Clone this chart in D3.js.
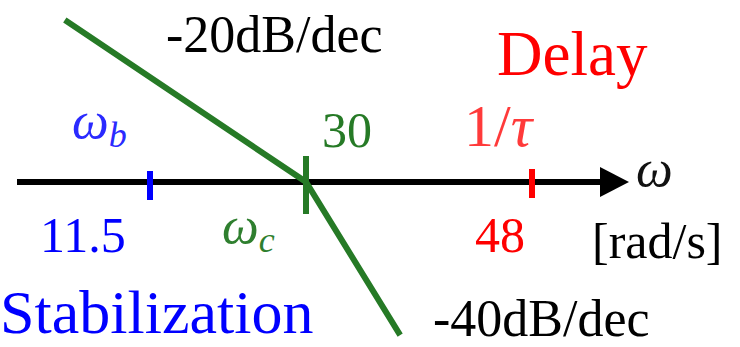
<!DOCTYPE html>
<html>
<head>
<meta charset="utf-8">
<script src="https://cdn.jsdelivr.net/npm/d3@7"></script>
<style>
  html, body { margin: 0; padding: 0; background: #fff; }
  svg { display: block; }
</style>
</head>
<body>
<div id="chart"></div>
<script>
// break frequencies on the omega axis [rad/s]
const breakFreqs = [11.5, 30, 48];
const breakValueLabels = ["11.5", "30", "48"];
const breakSymbols = [["ω", "b"], ["ω", "c"], ["1/", "τ"]];
const breakColors = ["#0000ff", "#267a26", "#ff0000"];
const symbolColors = ["#2a2aff", "#2f7f2f", "#ff3a3a"];

// gain asymptote (schematic): omega vs dB
const asymW = [1.4, 30, 37.5];
const asymDb = [20, 0, -18.9];

const slopeLabels = ["-20dB/dec", "-40dB/dec"];
const regionLabels = ["Stabilization", "Delay"];
const axisSymbol = "ω";
const unitLabel = "[rad/s]";

const width = 740, height = 347;
const axisY = 182;
const green = "#267a26";
const serif = '"Liberation Serif", "Times New Roman", serif';

const svg = d3.select("#chart").append("svg")
    .attr("width", width)
    .attr("height", height);

// not to scale: piecewise scale through the marked frequencies
const x = d3.scaleLinear()
    .domain(breakFreqs)
    .range([150, 306, 532]);

const y = d3.scaleLinear()
    .domain([0, 20])
    .range([axisY, 20]);

// omega axis with arrow
svg.append("line")
    .attr("x1", 17).attr("x2", 602)
    .attr("y1", axisY).attr("y2", axisY)
    .attr("stroke", "#000")
    .attr("stroke-width", 6);

svg.append("path")
    .attr("d", `M600,${axisY - 15} L629,${axisY} L600,${axisY + 15} Z`)
    .attr("fill", "#000");

svg.append("text")
    .attr("x", 636).attr("y", axisY + 4)
    .style("font-family", serif)
    .style("font-style", "italic")
    .style("font-size", "52px")
    .attr("fill", "#111")
    .text(axisSymbol);

svg.append("text")
    .attr("x", 592).attr("y", 258)
    .style("font-family", serif)
    .style("font-size", "50px")
    .attr("fill", "#000")
    .text(unitLabel);

// asymptote
const line = d3.line()
    .x((d, i) => x(asymW[i]))
    .y((d, i) => y(asymDb[i]));

svg.append("path")
    .datum(asymW)
    .attr("d", line)
    .attr("fill", "none")
    .attr("stroke", green)
    .attr("stroke-width", 6);

// ticks
const tickLen = [[-11, 18], [-26, 32], [-13, 16]];
svg.selectAll("line.tick")
    .data(breakFreqs)
    .enter()
    .append("line")
    .attr("class", "tick")
    .attr("x1", d => x(d)).attr("x2", d => x(d))
    .attr("y1", (d, i) => axisY + tickLen[i][0])
    .attr("y2", (d, i) => axisY + tickLen[i][1])
    .attr("stroke", (d, i) => breakColors[i])
    .attr("stroke-width", 6);

// value labels
const valuePos = [[-110, 252], [16, 147], [-57, 252]];
svg.selectAll("text.value")
    .data(breakFreqs)
    .enter()
    .append("text")
    .attr("class", "value")
    .attr("x", (d, i) => x(d) + valuePos[i][0])
    .attr("y", (d, i) => valuePos[i][1])
    .style("font-family", serif)
    .style("font-size", "50px")
    .attr("fill", (d, i) => breakColors[i])
    .text((d, i) => breakValueLabels[i]);

// symbol labels
const symbolPos = [[-78, 138], [-84, 243], [-68, 146]];
const symSize = [52, 52, 60];
const symSub = [true, true, false];
const sym = svg.selectAll("text.sym")
    .data(breakFreqs)
    .enter()
    .append("text")
    .attr("class", "sym")
    .attr("x", (d, i) => x(d) + symbolPos[i][0])
    .attr("y", (d, i) => symbolPos[i][1])
    .style("font-family", serif)
    .style("font-size", (d, i) => symSize[i] + "px")
    .attr("fill", (d, i) => symbolColors[i]);

sym.append("tspan")
    .style("font-style", (d, i) => symSub[i] ? "italic" : "normal")
    .text((d, i) => breakSymbols[i][0]);

sym.append("tspan")
    .style("font-style", "italic")
    .attr("dy", (d, i) => symSub[i] ? 9 : 0)
    .style("font-size", (d, i) => (symSub[i] ? 36 : symSize[i]) + "px")
    .text((d, i) => breakSymbols[i][1]);

// slope labels
svg.append("text")
    .attr("x", 166).attr("y", 52)
    .style("font-family", serif)
    .style("font-size", "52px")
    .attr("fill", "#000")
    .text(slopeLabels[0]);

svg.append("text")
    .attr("x", 433).attr("y", 336)
    .style("font-family", serif)
    .style("font-size", "52px")
    .attr("fill", "#000")
    .text(slopeLabels[1]);

// region labels
svg.append("text")
    .attr("x", 0).attr("y", 333)
    .style("font-family", serif)
    .style("font-size", "62px")
    .attr("fill", "#0000ff")
    .text(regionLabels[0]);

svg.append("text")
    .attr("x", 497).attr("y", 75)
    .style("font-family", serif)
    .style("font-size", "63px")
    .attr("fill", "#ff0000")
    .text(regionLabels[1]);
</script>
</body>
</html>
